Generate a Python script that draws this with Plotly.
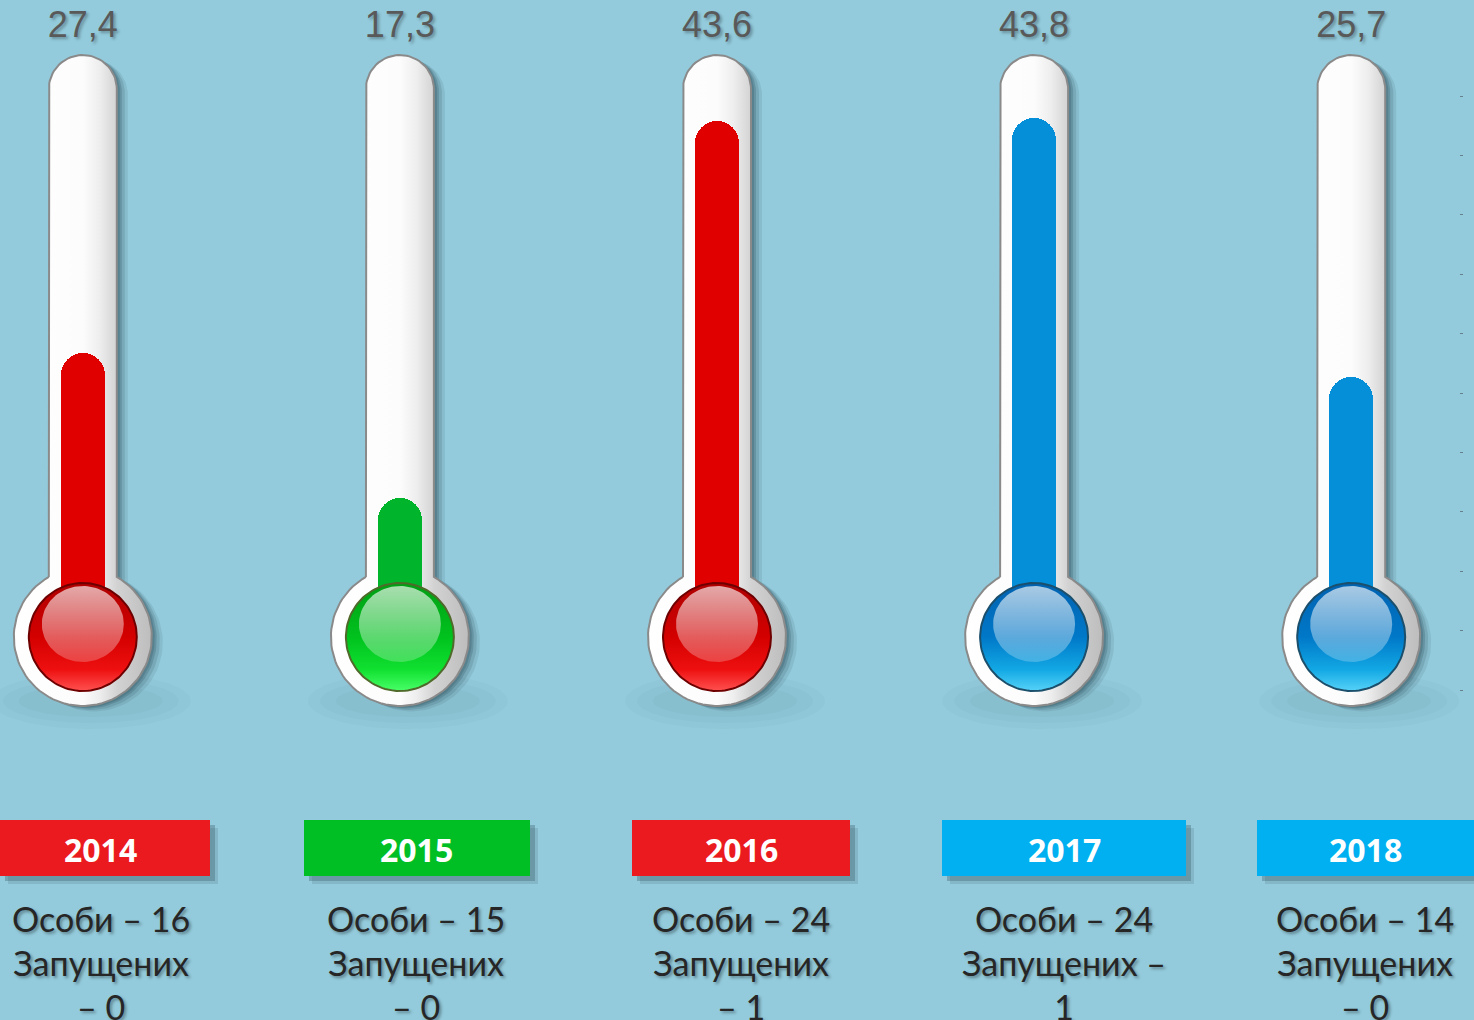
import numpy as np
import plotly.graph_objects as go

# ---------------- data ----------------
years = ["2014", "2015", "2016", "2017", "2018"]
values = [27.4, 17.3, 43.6, 43.8, 25.7]
persons = [16, 15, 24, 24, 14]
released = [0, 0, 1, 1, 0]
themes = ["red", "green", "red", "blue", "blue"]
line_breaks = ["<br>– ", "<br>– ", "<br>– ", " –<br>", "<br>– "]

# ---------------- layout constants ----------------
W, H = 1474, 1020
BG = "#93CBDC"
X0, DX = 82.8, 317.1            # pixel centre of first thermometer, spacing
TUBE_TOP, TUBE_R = 55, 34
BULB_CY, BULB_R, INNER_R = 637, 69, 54
Y_ZERO_PX, PX_PER_UNIT = 745.5, 14.32
MERC_W = 44
LABEL_Y_PX = 28
BOX_X = [(0, 210), (304, 530), (632, 850), (942, 1186), (1257, 1474)]
BOX_Y = (820, 876)
TEXT_CX = [101, 416, 741, 1064, 1365]
TICKS_Y = [96 + 59.4 * k for k in range(11)]

PAL = {
    "red": dict(merc="#E00000", box="#EB1A1E", ring="#6E0000",
                bulb=[[0, "#B00000"], [0.5, "#D40000"], [0.8, "#EE1010"], [1, "#FF5050"]]),
    "green": dict(merc="#00B52B", box="#00BF25", ring="#4F6A2A",
                  bulb=[[0, "#009E14"], [0.5, "#00C21E"], [0.8, "#10E030"], [1, "#48FF68"]]),
    "blue": dict(merc="#058FD8", box="#00B0F0", ring="#1B4F6B",
                 bulb=[[0, "#0062B0"], [0.5, "#0078C8"], [0.8, "#12A8E4"], [1, "#55D2F8"]]),
}


def px(x):
    return x / W


def py(y):
    return 1 - y / H


def outline(cx, dx=0.0, dy=0.0):
    r, R = TUBE_R, BULB_R
    jy = BULB_CY - np.sqrt(R ** 2 - r ** 2)
    capc = TUBE_TOP + r
    t = np.linspace(np.pi, 0, 40)
    xs = [cx - r] + list(cx + r * np.cos(t)) + [cx + r]
    ys = [jy] + list(capc - r * np.sin(t)) + [jy]
    a0 = np.arccos(r / R)
    a = np.linspace(-a0, np.pi + a0, 90)
    xs += list(cx + R * np.cos(a))
    ys += list(BULB_CY + R * np.sin(a))
    return [v + dx for v in xs], [v + dy for v in ys]


def ellipse(cx, cy, rx, ry, n=80):
    a = np.linspace(0, 2 * np.pi, n)
    return list(cx + rx * np.cos(a)), list(cy + ry * np.sin(a))


fig = go.Figure()
centers = [X0 + DX * i for i in range(len(years))]

# ---- decoration below mercury (pixel subplot xy) ----
for cx in centers:
    for rx, ry, al in [(100, 28, 0.03), (88, 22, 0.035), (72, 16, 0.04)]:
        ex, ey = ellipse(cx + 8, BULB_CY + 64, rx, ry)
        fig.add_trace(go.Scatter(x=ex, y=ey, mode="lines", fill="toself", line=dict(width=0),
                                 fillcolor=f"rgba(60,90,100,{al})", hoverinfo="skip", showlegend=False))
    for off, al in [(11, 0.10), (8, 0.14), (5, 0.2), (3, 0.2)]:
        sx, sy = outline(cx, off, off * 0.5)
        fig.add_trace(go.Scatter(x=sx, y=sy, mode="lines", fill="toself", line=dict(width=0),
                                 fillcolor=f"rgba(30,60,70,{al})", hoverinfo="skip", showlegend=False))
    ox, oy = outline(cx)
    fig.add_trace(go.Scatter(
        x=ox, y=oy, mode="lines", fill="toself", line=dict(color="#8A8A8A", width=2),
        fillgradient=dict(type="horizontal",
                          colorscale=[[0, "#FFFFFF"], [0.5, "#FCFCFC"], [0.62, "#EEEEEE"],
                                      [0.75, "#D2D2D2"], [1, "#BDBDBD"]]),
        hoverinfo="skip", showlegend=False))

# ---- mercury columns (data subplot x2y2) ----
base_val = (Y_ZERO_PX - BULB_CY) / PX_PER_UNIT
fig.add_trace(go.Bar(
    x=years, y=[v - base_val for v in values], base=base_val,
    width=MERC_W / DX, xaxis="x2", yaxis="y2",
    marker=dict(color=[PAL[t]["merc"] for t in themes], cornerradius="50%", line=dict(width=0)),
    hoverinfo="skip", showlegend=False))

# ---- bulbs (pixel subplot x3y3) ----
for cx, t in zip(centers, themes):
    bx, by = ellipse(cx, BULB_CY, INNER_R, INNER_R, 120)
    fig.add_trace(go.Scatter(
        x=bx, y=by, mode="lines", fill="toself", xaxis="x3", yaxis="y3",
        line=dict(color=PAL[t]["ring"], width=2),
        fillgradient=dict(type="vertical", colorscale=PAL[t]["bulb"],
                          start=BULB_CY - INNER_R, stop=BULB_CY + INNER_R),
        hoverinfo="skip", showlegend=False))
    hx, hy = ellipse(cx, BULB_CY - 13, 41, 38, 100)
    fig.add_trace(go.Scatter(
        x=hx, y=hy, mode="lines", fill="toself", xaxis="x3", yaxis="y3",
        line=dict(width=0),
        fillgradient=dict(type="vertical",
                          colorscale=[[0, "rgba(255,255,255,0.66)"], [1, "rgba(255,255,255,0.22)"]],
                          start=BULB_CY - 51, stop=BULB_CY + 25),
        hoverinfo="skip", showlegend=False))

# ---- value labels above tubes (text trace on data x axis) ----
fig.add_trace(go.Scatter(
    x=years, y=[(Y_ZERO_PX - LABEL_Y_PX) / PX_PER_UNIT] * len(years),
    xaxis="x2", yaxis="y2", mode="text",
    text=[f"{v:.1f}".replace(".", ",") for v in values], textposition="middle center",
    textfont=dict(family="Liberation Sans", size=36, color="#595959",
                  shadow="2px 2px 3px rgba(0,0,0,0.3)"),
    hoverinfo="skip", showlegend=False))

# ---- year boxes ----
shapes = []
annotations = []
for (x0, x1), t in zip(BOX_X, themes):
    y0, y1 = BOX_Y
    for off, al in [(8, 0.15), (5, 0.3)]:
        shapes.append(dict(type="rect", xref="paper", yref="paper",
                           x0=px(x0 + off), x1=px(x1 + off), y0=py(y0 + off), y1=py(y1 + off),
                           fillcolor=f"rgba(50,80,90,{al})", line=dict(width=0)))
    shapes.append(dict(type="rect", xref="paper", yref="paper",
                       x0=px(x0), x1=px(x1), y0=py(y0), y1=py(y1),
                       fillcolor=PAL[t]["box"], line=dict(width=0)))

for cx, yr in zip(TEXT_CX, years):
    annotations.append(dict(xref="paper", yref="paper", x=px(cx), y=py(849), text=f"<b>{yr}</b>",
                            showarrow=False, xanchor="center", yanchor="middle",
                            font=dict(family="Open Sans", size=32, color="white", weight=700)))

for cx, p, r, lb in zip(TEXT_CX, persons, released, line_breaks):
    txt = f"Особи – {p}<br>Запущених{lb}{r}"
    annotations.append(dict(xref="paper", yref="paper", x=px(cx), y=py(962), text=txt,
                            showarrow=False, xanchor="center", yanchor="middle", align="center",
                            font=dict(family="Lato", size=34, color="#262626",
                                      shadow="2px 2px 3px rgba(0,0,0,0.35)")))

fig.update_layout(
    width=W, height=H, margin=dict(l=0, r=0, t=0, b=0),
    paper_bgcolor=BG, plot_bgcolor="rgba(0,0,0,0)",
    hovermode=False, showlegend=False, bargap=0,
    shapes=shapes, annotations=annotations,
    xaxis=dict(range=[0, W], visible=False, fixedrange=True),
    yaxis=dict(range=[H, 0], visible=True, fixedrange=True, anchor="free", position=1459 / W,
               side="right", showgrid=False, zeroline=False, showline=False, showticklabels=False,
               ticks="outside", ticklen=3, tickwidth=1, tickcolor="rgba(90,110,120,0.8)",
               tickvals=TICKS_Y),
    xaxis2=dict(type="category", categoryorder="array", categoryarray=years,
                range=[-X0 / DX, (W - X0) / DX], overlaying="x", visible=False, fixedrange=True),
    yaxis2=dict(range=[-(H - Y_ZERO_PX) / PX_PER_UNIT, Y_ZERO_PX / PX_PER_UNIT],
                overlaying="y", visible=False, fixedrange=True),
    xaxis3=dict(range=[0, W], overlaying="x", visible=False, fixedrange=True),
    yaxis3=dict(range=[H, 0], overlaying="y", visible=False, fixedrange=True),
)

fig.write_html("out.html", config={"displayModeBar": False},
               post_script="document.body.style.margin='0';")
